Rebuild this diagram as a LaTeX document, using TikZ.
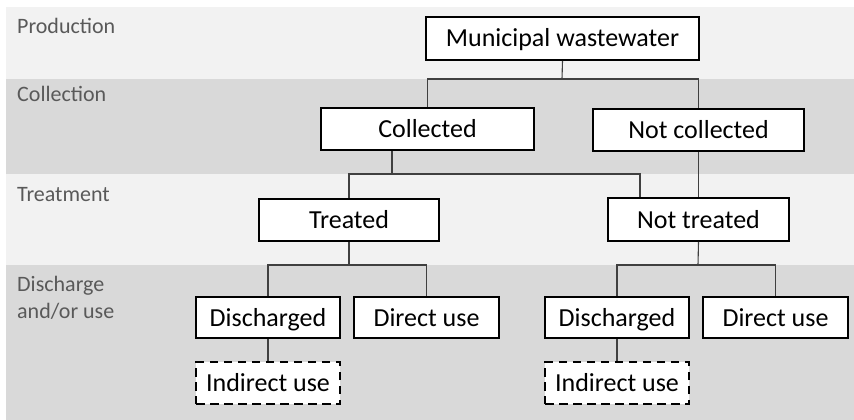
\documentclass[tikz,border=0pt]{standalone}
\usepackage{fontspec}
\setmainfont{Carlito}
\definecolor{bandlight}{HTML}{F2F2F2}
\definecolor{banddark}{HTML}{D9D9D9}
\definecolor{labelgray}{HTML}{595959}
\definecolor{linegray}{HTML}{404040}
\begin{document}
\begin{tikzpicture}[x=1pt,y=-1pt,
  box/.style={draw=black,line width=1.8pt,fill=white,inner sep=0pt,
    minimum height=42pt,font=\fontsize{26}{31}\selectfont,
    text height=19.5pt,text depth=2.5pt},
  dashbox/.style={box,dash pattern=on 8.5pt off 5.5pt},
  stage/.style={anchor=base west,inner sep=0pt,text=labelgray,
    font=\fontsize{22}{27}\selectfont,align=left},
  conn/.style={draw=linegray,line width=1.1pt}]
\useasboundingbox (0,0) rectangle (854,420);
\fill[white] (0,0) rectangle (854,420);
\fill[bandlight] (6,7) rectangle (854,79);
\fill[banddark] (6,79) rectangle (854,174);
\fill[bandlight] (6,174) rectangle (854,265);
\fill[banddark] (6,265) rectangle (854,420);
% stage labels
\node[stage] (lp) at (17,34) {Production};
\node[stage] (lc) at (17,101) {Collection};
\node[stage] (lt) at (17,201) {Treatment};
\node[stage] (ld) at (17,318) {Discharge\\and/or use};
% coordinates for junctions
\coordinate (j1) at (562,79);
\coordinate (cj) at (392,174);
\coordinate (cr) at (640,174);
\coordinate (j3) at (349,265);
\coordinate (j4) at (698,265);
% boxes
\node[box,minimum width=273pt,minimum height=43pt] (mw) at (562.5,38.5) {Municipal wastewater};
\node[box,minimum width=213pt] (col) at (427.5,129) {Collected};
\node[box,minimum width=211pt] (ncol) at (698.5,130) {Not collected};
\node[box,minimum width=180pt] (tr) at (349,220) {Treated};
\node[box,minimum width=181pt,minimum height=43pt] (nt) at (698.5,219.5) {Not treated};
\node[box,minimum width=144pt,minimum height=41pt] (dL) at (268,317.5) {Discharged};
\node[box,minimum width=145pt,minimum height=41pt] (uL) at (426.5,317.5) {Direct use};
\node[box,minimum width=144pt,minimum height=41pt] (dR) at (617,317.5) {Discharged};
\node[box,minimum width=145pt,minimum height=41pt] (uR) at (775.5,317.5) {Direct use};
\node[dashbox,minimum width=144pt] (iL) at (268,383) {Indirect use};
\node[dashbox,minimum width=144pt] (iR) at (617,383) {Indirect use};
% connectors
\draw[conn] (mw.south) -- (j1);
\draw[conn] (col.north) |- (j1) -| (ncol.north);
\draw[conn] (col.south -| cj) -- (cj);
\draw[conn] (tr.north) |- (cr) -- (cr |- nt.north);
\draw[conn] (ncol.south) -- (nt.north);
\draw[conn] (tr.south) -- (j3);
\draw[conn] (dL.north) |- (j3) -| (uL.north);
\draw[conn] (nt.south) -- (j4);
\draw[conn] (dR.north) |- (j4) -| (uR.north);
\draw[conn] (dL.south) -- (iL.north);
\draw[conn] (dR.south) -- (iR.north);
\end{tikzpicture}
\end{document}
